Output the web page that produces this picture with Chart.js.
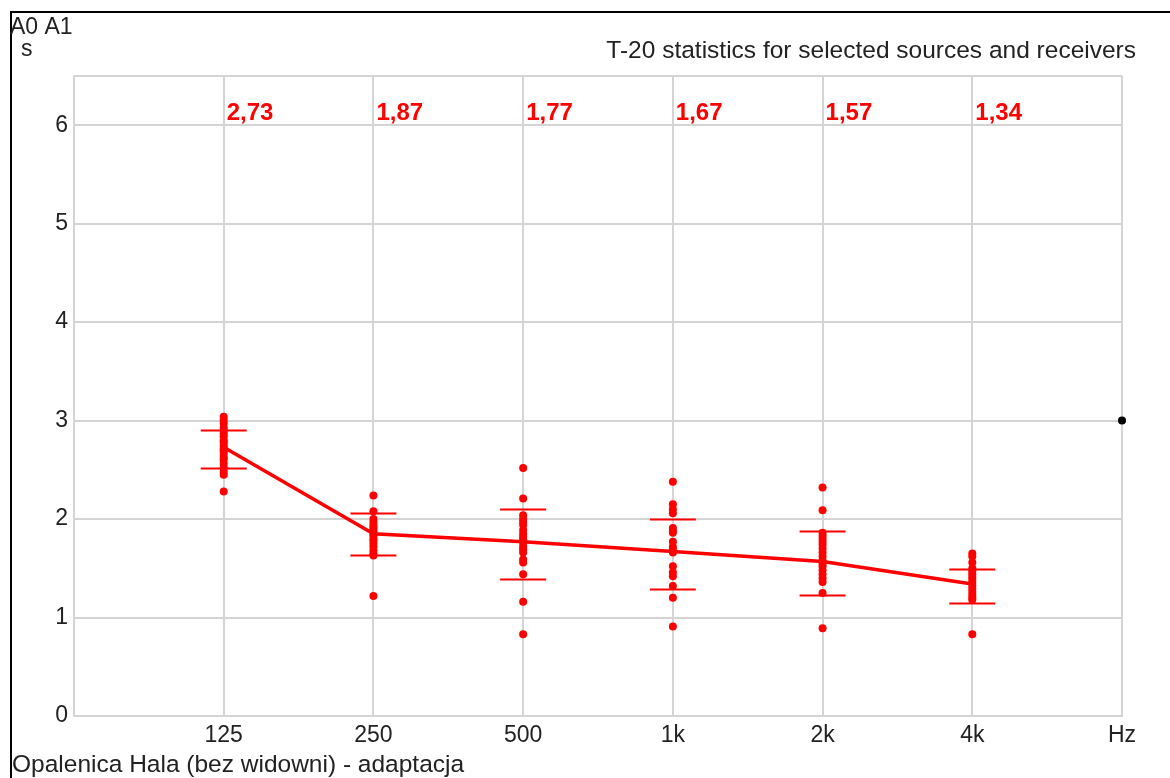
<!DOCTYPE html>
<html>
<head>
<meta charset="utf-8">
<script src="https://cdn.jsdelivr.net/npm/chart.js@4.4.0/dist/chart.umd.min.js"></script>
<style>
  body { margin: 0; background: #fff; }
  #wrap { position: relative; width: 1170px; height: 778px; }
</style>
</head>
<body>
<div id="wrap"><canvas id="t20Chart"></canvas></div>
<script>
const axisLabels = ['', '125', '250', '500', '1k', '2k', '4k', 'Hz'];

// individual source/receiver T-20 values per band (s)
const t20_125 = [3.04, 3.00, 2.97, 2.93, 2.90, 2.87, 2.84, 2.80, 2.78, 2.75, 2.72, 2.70, 2.68, 2.65, 2.62, 2.60, 2.56, 2.52, 2.48, 2.45, 2.28];
const t20_250 = [2.24, 2.08, 2.00, 1.97, 1.94, 1.92, 1.90, 1.88, 1.85, 1.83, 1.80, 1.78, 1.75, 1.72, 1.68, 1.65, 1.63, 1.22];
const t20_500 = [2.52, 2.21, 2.04, 2.00, 1.97, 1.94, 1.89, 1.85, 1.82, 1.79, 1.76, 1.72, 1.69, 1.66, 1.59, 1.56, 1.44, 1.16, 0.83];
const t20_1k = [2.38, 2.15, 2.10, 2.06, 1.91, 1.88, 1.86, 1.77, 1.72, 1.69, 1.66, 1.52, 1.46, 1.42, 1.32, 1.20, 0.91];
const t20_2k = [2.32, 2.09, 1.86, 1.83, 1.80, 1.77, 1.74, 1.70, 1.66, 1.62, 1.58, 1.55, 1.52, 1.48, 1.44, 1.40, 1.36, 1.25, 0.89];
const t20_4k = [1.65, 1.62, 1.56, 1.50, 1.47, 1.44, 1.41, 1.38, 1.35, 1.32, 1.29, 1.26, 1.23, 1.20, 1.18, 0.83];

const meanT20 = [2.73, 1.85, 1.77, 1.67, 1.57, 1.34];
const meanLabels = ['2,73', '1,87', '1,77', '1,67', '1,57', '1,34'];
const upperBar = [2.90, 2.06, 2.10, 2.00, 1.88, 1.49];
const lowerBar = [2.52, 1.64, 1.39, 1.29, 1.23, 1.15];
const refValue = 3.0;

const bands = [t20_125, t20_250, t20_500, t20_1k, t20_2k, t20_4k];
const FONT = "'Liberation Sans', Arial, sans-serif";

const scatterPts = [];
bands.forEach((vals, i) => vals.forEach(v => scatterPts.push({ x: i + 1, y: v })));

const overlay = {
    id: 'overlay',
    beforeDraw(chart) {
        const ctx = chart.ctx;
        ctx.save();
        ctx.fillStyle = '#fff';
        ctx.fillRect(0, 0, chart.width, chart.height);
        ctx.strokeStyle = '#000';
        ctx.lineWidth = 2;
        ctx.beginPath();
        ctx.moveTo(11, 778);
        ctx.lineTo(11, 12);
        ctx.lineTo(1170, 12);
        ctx.stroke();
        ctx.restore();
    },
    afterDatasetsDraw(chart) {
        const ctx = chart.ctx;
        const xs = chart.scales.x, ys = chart.scales.y;
        ctx.save();
        // error bar caps
        ctx.strokeStyle = '#ff0000';
        ctx.lineWidth = 2;
        upperBar.forEach((u, i) => {
            const px = xs.getPixelForValue(i + 1);
            [u, lowerBar[i]].forEach(v => {
                const py = Math.round(ys.getPixelForValue(v)) + 0.5;
                ctx.beginPath();
                ctx.moveTo(px - 23, py);
                ctx.lineTo(px + 23, py);
                ctx.stroke();
            });
        });
        // mean value labels
        ctx.fillStyle = '#ff0000';
        ctx.font = 'bold 24px ' + FONT;
        ctx.textBaseline = 'middle';
        ctx.textAlign = 'left';
        meanLabels.forEach((t, i) => {
            ctx.fillText(t, xs.getPixelForValue(i + 1) + 3, chart.chartArea.top + 37);
        });
        // header / footer texts
        ctx.fillStyle = '#222';
        ctx.font = '23px ' + FONT;
        ctx.fillText('A0 A1', 10, 28);
        ctx.fillText('s', 21, 50);
        ctx.font = '24.5px ' + FONT;
        ctx.fillText('Opalenica Hala (bez widowni) - adaptacja', 12, 765);
        ctx.textAlign = 'right';
        ctx.fillText('T-20 statistics for selected sources and receivers', 1136, 51);
        ctx.restore();
    }
};

new Chart(document.getElementById('t20Chart'), {
    type: 'scatter',
    data: {
        datasets: [
            {
                data: scatterPts,
                backgroundColor: '#ff0000',
                borderWidth: 0,
                pointRadius: 4,
                showLine: false
            },
            {
                data: meanT20.map((v, i) => ({ x: i + 1, y: v })),
                borderColor: '#ff0000',
                borderWidth: 3.5,
                pointRadius: 0,
                showLine: true,
                tension: 0
            },
            {
                data: [{ x: 7, y: refValue }],
                backgroundColor: '#000',
                borderWidth: 0,
                pointRadius: 4,
                clip: false
            }
        ]
    },
    options: {
        responsive: true,
        maintainAspectRatio: false,
        animation: false,
        events: [],
        layout: { padding: { left: 12, top: 76, right: 48, bottom: 0 } },
        plugins: { legend: { display: false }, tooltip: { enabled: false } },
        scales: {
            x: {
                type: 'linear',
                min: 0,
                max: 7,
                afterFit: s => { s.height = 62; },
                grid: { color: '#d4d4d4', lineWidth: 2, drawTicks: false },
                border: { color: '#d4d4d4', width: 2 },
                ticks: {
                    stepSize: 1,
                    padding: 6,
                    color: '#222',
                    font: { family: FONT, size: 23 },
                    maxRotation: 0,
                    callback: v => axisLabels[v] ?? ''
                }
            },
            y: {
                min: 0,
                max: 6.5,
                afterFit: s => { s.width = 62; },
                grid: { color: '#d4d4d4', lineWidth: 2, drawTicks: false },
                border: { color: '#d4d4d4', width: 2 },
                ticks: {
                    stepSize: 1,
                    padding: 6,
                    color: '#222',
                    font: { family: FONT, size: 23 },
                    callback: v => Number.isInteger(v) ? v : ''
                }
            }
        }
    },
    plugins: [overlay]
});
</script>
</body>
</html>
